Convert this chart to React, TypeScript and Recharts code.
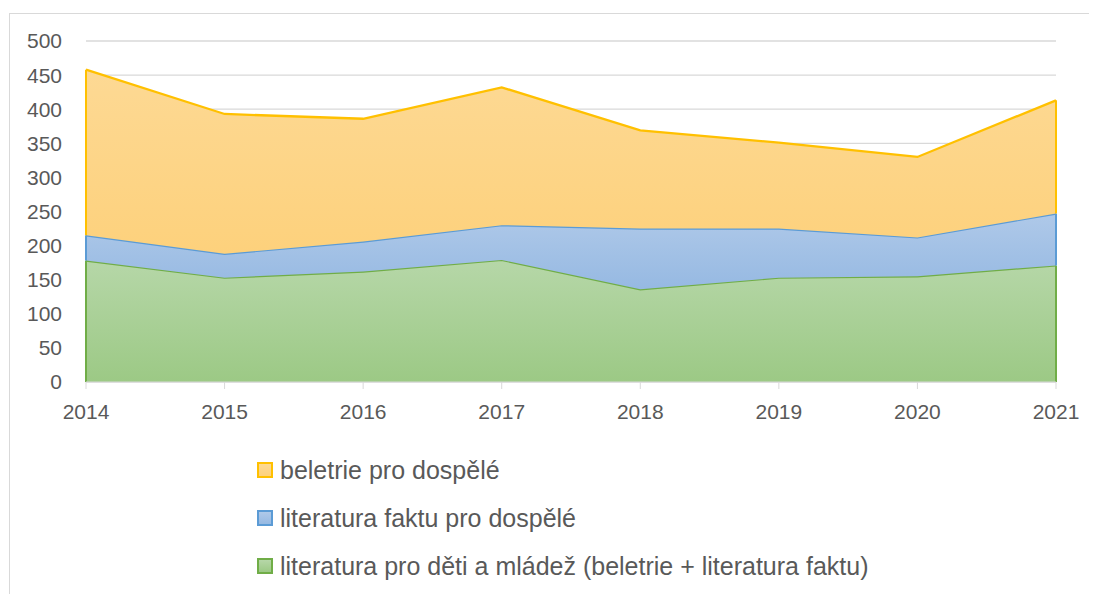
import React from "react"
import { AreaChart, Area, XAxis, YAxis, CartesianGrid, ReferenceLine } from "recharts"

const years = ["2014", "2015", "2016", "2017", "2018", "2019", "2020", "2021"]
const detiMladez = [178, 153, 162, 179, 136, 153, 155, 171]
const faktuDospele = [37, 35, 44, 51, 89, 72, 57, 76]
const beletrieDospele = [243, 205, 180, 202, 144, 126, 118, 166]
const yTicks = [0, 50, 100, 150, 200, 250, 300, 350, 400, 450, 500]

const series = [
  { key: "beletrie", name: "beletrie pro dospělé", stroke: "#ffc000", top: "#fdd994", bottom: "#fdd17c" },
  { key: "faktu", name: "literatura faktu pro dospělé", stroke: "#5b9bd5", top: "#afc9e9", bottom: "#96b9e2" },
  { key: "deti", name: "literatura pro děti a mládež (beletrie + literatura faktu)", stroke: "#70ad47", top: "#b6d7a8", bottom: "#9cc985" },
]

const data = years.map((y, i) => ({
  year: y,
  deti: detiMladez[i],
  faktu: faktuDospele[i],
  beletrie: beletrieDospele[i],
}))

const textColor = "#595959"
const gridColor = "#d9d9d9"
const font = "'Liberation Sans', Arial, sans-serif"

// vertical outline pieces at the first and last year (Excel draws the area edges)
const edgeIdx = [0, years.length - 1]
const edges = edgeIdx.flatMap((i) => {
  const a = detiMladez[i]
  const b = a + faktuDospele[i]
  const c = b + beletrieDospele[i]
  return [
    { x: years[i], from: 0, to: a, color: "#70ad47" },
    { x: years[i], from: a, to: b, color: "#5b9bd5" },
    { x: years[i], from: b, to: c, color: "#ffc000" },
  ]
})

const LegendList = () => (
  <div
    style={{
      position: "absolute",
      left: 247,
      top: 432,
      fontFamily: font,
      fontSize: 25,
      color: textColor,
    }}
  >
    {series.map((s) => (
      <div key={s.key} style={{ display: "flex", alignItems: "center", height: 48, whiteSpace: "nowrap" }}>
        <span
          style={{
            display: "inline-block",
            flexShrink: 0,
            boxSizing: "border-box",
            width: 16,
            height: 16,
            border: `2px solid ${s.stroke}`,
            background: `linear-gradient(${s.top}, ${s.bottom})`,
            marginRight: 7,
          }}
        />
        <span>{s.name}</span>
      </div>
    ))}
  </div>
)

export default function App() {
  const order = ["deti", "faktu", "beletrie"]
  return (
    <div style={{ paddingTop: 5, paddingLeft: 1 }}>
      <div
        style={{
          width: 1088,
          height: 581,
          borderLeft: `1px solid ${gridColor}`,
          borderTop: `1px solid ${gridColor}`,
          boxSizing: "border-box",
          position: "relative",
        }}
      >
        <AreaChart
          width={1078}
          height={570}
          data={data}
          margin={{ top: 27, right: 32, left: 0, bottom: 172 }}
        >
          <defs>
            {series.map((s) => (
              <linearGradient key={s.key} id={`g-${s.key}`} x1="0" y1="0" x2="0" y2="1">
                <stop offset="0%" stopColor={s.top} />
                <stop offset="100%" stopColor={s.bottom} />
              </linearGradient>
            ))}
          </defs>
          <CartesianGrid vertical={false} stroke={gridColor} strokeWidth={1.3} />
          <XAxis
            dataKey="year"
            interval={0}
            height={30}
            stroke={gridColor}
            tickSize={7}
            tickMargin={15}
            tick={{ fill: textColor, fontSize: 21, fontFamily: font }}
          />
          <YAxis
            domain={[0, 500]}
            ticks={yTicks}
            interval={0}
            width={76}
            axisLine={false}
            tickLine={false}
            tickSize={0}
            tickMargin={24}
            tick={{ fill: textColor, fontSize: 21, fontFamily: font }}
          />
          {order.map((k) => {
            const s = series.find((x) => x.key === k)!
            return (
              <Area
                key={k}
                type="linear"
                dataKey={k}
                name={s.name}
                stackId="1"
                stroke={s.stroke}
                strokeWidth={2.3}
                fill={`url(#g-${k})`}
                fillOpacity={1}
                isAnimationActive={false}
              />
            )
          })}
          {edges.map((e, i) => (
            <ReferenceLine
              key={i}
              segment={[
                { x: e.x, y: e.from },
                { x: e.x, y: e.to },
              ]}
              stroke={e.color}
              strokeWidth={2}
              ifOverflow="visible"
            />
          ))}
        </AreaChart>
        <LegendList />
      </div>
    </div>
  )
}
